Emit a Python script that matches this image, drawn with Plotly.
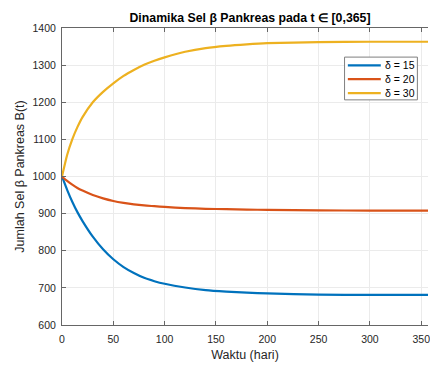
import plotly.graph_objects as go

# Time samples (days) and beta-cell counts B(t) for each delta value
t_days = [0, 5, 10, 15, 20, 30, 40, 50, 60, 70, 80, 90, 100, 120, 140, 160, 180, 200, 250, 300, 365]
b_delta15 = [1000, 964, 932, 904, 880, 838, 804, 777, 756, 740, 727, 718, 711, 701, 694, 690, 687, 685, 682, 681, 681]
b_delta20 = [1000, 988, 978, 969, 962, 950, 941, 934, 929, 925, 922, 920, 918, 915, 913, 912, 911, 910, 909, 908, 908]
b_delta30 = [1000, 1058, 1100, 1133, 1160, 1200, 1228, 1251, 1271, 1287, 1301, 1312, 1321, 1336, 1346, 1352, 1356, 1359, 1362, 1363, 1363]

series_names = ["δ = 15", "δ = 20", "δ = 30"]
series_colors = ["#0072BD", "#D95319", "#EDB120"]
x_ticks = [0, 50, 100, 150, 200, 250, 300, 350]
y_ticks = [600, 700, 800, 900, 1000, 1100, 1200, 1300, 1400]

FONT = "Liberation Sans, Arial, sans-serif"
AX = "#666666"

fig = go.Figure()
for name, vals, col in zip(series_names, [b_delta15, b_delta20, b_delta30], series_colors):
    fig.add_trace(go.Scatter(
        x=t_days, y=vals, mode="lines", name=name, showlegend=False,
        line=dict(color=col, width=2.2, shape="spline", smoothing=0.6),
    ))

# Compact boxed legend in the upper right of the axes
leg_x0, leg_x1 = 0.772, 0.971
leg_y0, leg_y1 = 0.758, 0.902
row_y = [0.874, 0.828, 0.781]
fig.add_shape(type="rect", xref="paper", yref="paper",
              x0=leg_x0, x1=leg_x1, y0=leg_y0, y1=leg_y1,
              line=dict(color="#7f7f7f", width=1), fillcolor="white", layer="above")
for name, col, ry in zip(series_names, series_colors, row_y):
    fig.add_shape(type="line", xref="paper", yref="paper",
                  x0=0.781, x1=0.871, y0=ry, y1=ry,
                  line=dict(color=col, width=2.2), layer="above")
    fig.add_annotation(text=name, xref="paper", yref="paper", x=0.878, y=ry,
                       xanchor="left", yanchor="middle", showarrow=False,
                       font=dict(family=FONT, size=10.5, color="#000000"))

fig.update_layout(
    width=430, height=365,
    margin=dict(l=62, r=0, t=28, b=40),
    paper_bgcolor="white", plot_bgcolor="white",
    font=dict(family=FONT, size=10.5, color="#262626"),
    title=dict(
        text="<b>Dinamika Sel β Pankreas pada t ∈ [0,365]</b>",
        x=(250 / 430), xref="container", xanchor="center",
        y=(365 - 18) / 365, yref="container", yanchor="middle",
        font=dict(family=FONT, size=12.3, color="#000000"),
    ),
    showlegend=False,
    xaxis=dict(
        range=[0, 356.6], tickvals=x_ticks, ticks="inside", ticklen=4,
        tickcolor=AX, showline=True, linecolor=AX, linewidth=1, mirror="ticks",
        showgrid=True, gridcolor="#ebebeb", gridwidth=1, zeroline=False,
        ticklabelstandoff=4, ticklabeloverflow="allow",
        title=dict(text="Waktu (hari)", font=dict(size=12.5, color="#262626"), standoff=6),
    ),
    yaxis=dict(
        range=[600, 1400], tickvals=y_ticks, ticks="inside", ticklen=4,
        tickcolor=AX, showline=True, linecolor=AX, linewidth=1,
        showgrid=True, gridcolor="#ebebeb", gridwidth=1, zeroline=False,
        ticklabelstandoff=3,
        title=dict(text="Jumlah Sel β Pankreas B(t)", font=dict(size=12.5, color="#262626"), standoff=5),
    ),
)

fig.write_html("out.html")
